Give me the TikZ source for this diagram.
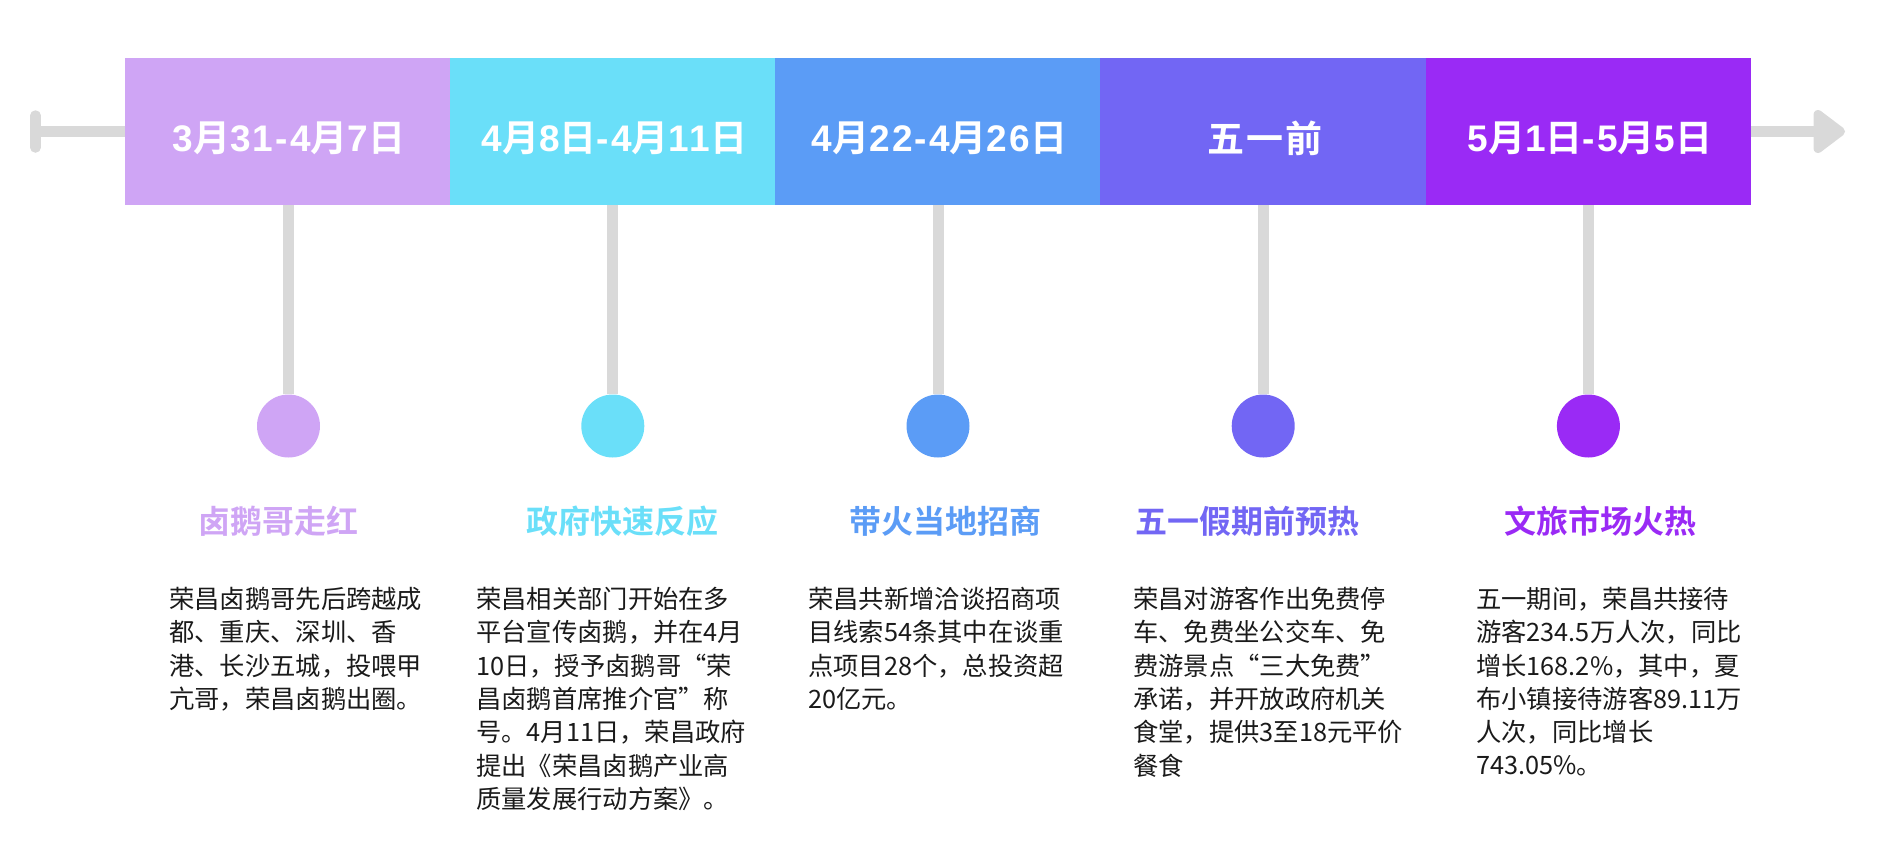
\documentclass[tikz,border=0pt]{standalone}
\usepackage{fontspec}
\newfontfamily\cjk{Noto Sans CJK SC}
\newfontfamily\cjkB{Noto Sans CJK SC Bold}
\newfontfamily\cjkBs{Noto Sans CJK SC Bold}[LetterSpace=6]
\newfontfamily\latB{Liberation Sans Bold}[LetterSpace=6]
\newcommand\hdL[1]{{\latB #1}}
\newcommand\hdC[1]{{\cjkBs #1}}
\definecolor{cA}{HTML}{CFA5F5}
\definecolor{cB}{HTML}{6ADFF9}
\definecolor{cC}{HTML}{5B9CF6}
\definecolor{cD}{HTML}{7266F4}
\definecolor{cE}{HTML}{9A2AF5}
\definecolor{axisgray}{HTML}{D9D9D9}
\definecolor{bodytext}{HTML}{1A1A1A}
\begin{document}
\begin{tikzpicture}[x=1pt,y=-1pt,
  hdr/.style={rectangle, minimum width=325.6pt, minimum height=147pt, inner sep=0pt, draw=none},
  htxt/.style={font=\fontsize{37}{40}\selectfont, text=white, inner sep=0pt},
  axisline/.style={draw=axisgray, line width=11pt},
  stem/.style={draw=axisgray, line width=11pt},
  dot/.style={circle, minimum size=63pt, inner sep=0pt, draw=none},
  ttl/.style={font=\cjkB\fontsize{32}{36}\selectfont, inner sep=0pt},
  body/.style={font=\cjk\fontsize{25.3}{33.3}\selectfont, align=left, anchor=north west, inner sep=0pt, text=bodytext}
]
\useasboundingbox (0,0) rectangle (1904,852);

% header boxes
\node[hdr, fill=cA] (h1) at (287.6,131.5) {};
\node[hdr, fill=cB] (h2) at (612.8,131.5) {};
\node[hdr, fill=cC] (h3) at (938,131.5) {};
\node[hdr, fill=cD] (h4) at (1263.2,131.5) {};
\node[hdr, fill=cE] (h5) at (1588.4,131.5) {};

\node[htxt] (ht1) at (289,138) {\hdL{3}\hdC{月}\hdL{31-4}\hdC{月}\hdL{7}\hdC{日}};
\node[htxt] (ht2) at (614.5,138) {\hdL{4}\hdC{月}\hdL{8}\hdC{日}\hdL{-4}\hdC{月}\hdL{11}\hdC{日}};
\node[htxt] (ht3) at (939.5,138) {\hdL{4}\hdC{月}\hdL{22-4}\hdC{月}\hdL{26}\hdC{日}};
\node[htxt] (ht4) at (1265,138) {\hdC{五一前}};
\node[htxt] (ht5) at (1590,138) {\hdL{5}\hdC{月}\hdL{1}\hdC{日}\hdL{-5}\hdC{月}\hdL{5}\hdC{日}};

% axis ends
\coordinate (Lend) at (35.5,131.5);
\coordinate (Ltop) at (35.5,115.5);
\coordinate (Lbot) at (35.5,147.5);
\draw[axisline] (Lend) -- (h1.west);
\draw[draw=axisgray, line width=10.5pt, line cap=round] (Ltop) -- (Lbot);

\coordinate (Rend) at (1822,131.5);
\coordinate (Ra) at (1818,114.5);
\coordinate (Rb) at (1840.5,131.5);
\coordinate (Rc) at (1818,148.5);
\draw[axisline] (h5.east) -- (Rend);
\filldraw[draw=axisgray, fill=axisgray, line width=9pt, line join=round] (Ra) -- (Rb) -- (Rc) -- cycle;

% circles
\node[dot, fill=cA] (c1) at (288.5,426) {};
\node[dot, fill=cB] (c2) at (612.8,426) {};
\node[dot, fill=cC] (c3) at (938,426) {};
\node[dot, fill=cD] (c4) at (1263.2,426) {};
\node[dot, fill=cE] (c5) at (1588.4,426) {};

% stems
\draw[stem] (h1.south -| c1) -- (c1.north);
\draw[stem] (h2.south -| c2) -- (c2.north);
\draw[stem] (h3.south -| c3) -- (c3.north);
\draw[stem] (h4.south -| c4) -- (c4.north);
\draw[stem] (h5.south -| c5) -- (c5.north);

% titles
\node[ttl, text=cA] (t1) at (278,521) {卤鹅哥走红};
\node[ttl, text=cB] (t2) at (622,521) {政府快速反应};
\node[ttl, text=cC] (t3) at (945,521) {带火当地招商};
\node[ttl, text=cD] (t4) at (1247,521) {五一假期前预热};
\node[ttl, text=cE] (t5) at (1600,521) {文旅市场火热};

% bodies
\node[body] (b1) at (169,587) {荣昌卤鹅哥先后跨越成\\都、重庆、深圳、香\\港、长沙五城，投喂甲\\亢哥，荣昌卤鹅出圈。};
\node[body] (b2) at (476,587) {荣昌相关部门开始在多\\平台宣传卤鹅，并在4月\\10日，授予卤鹅哥“荣\\昌卤鹅首席推介官”称\\号。4月11日，荣昌政府\\提出《荣昌卤鹅产业高\\质量发展行动方案》。};
\node[body] (b3) at (808,587) {荣昌共新增洽谈招商项\\目线索54条其中在谈重\\点项目28个，总投资超\\20亿元。};
\node[body] (b4) at (1133,587) {荣昌对游客作出免费停\\车、免费坐公交车、免\\费游景点“三大免费”\\承诺，并开放政府机关\\食堂，提供3至18元平价\\餐食};
\node[body] (b5) at (1476,587) {五一期间，荣昌共接待\\游客234.5万人次，同比\\增长168.2\%，其中，夏\\布小镇接待游客89.11万\\人次，同比增长\\743.05\%。};
\end{tikzpicture}
\end{document}
